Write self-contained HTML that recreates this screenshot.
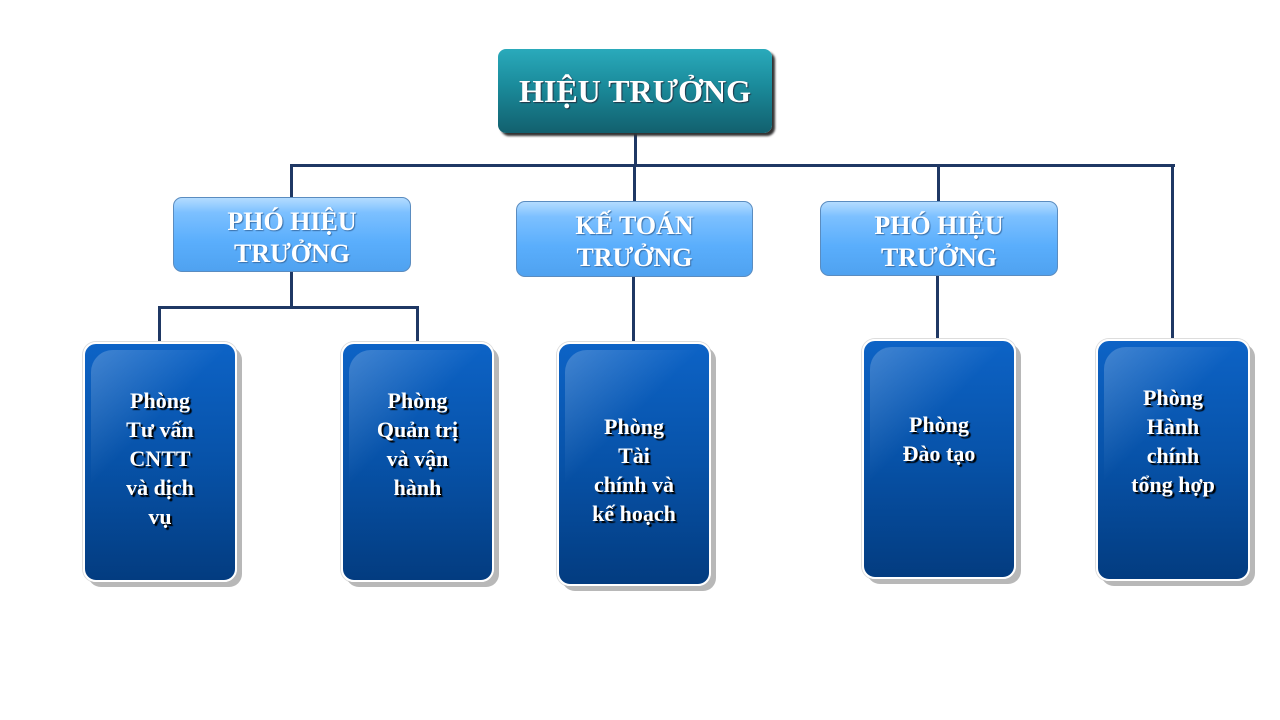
<!DOCTYPE html>
<html><head><meta charset="utf-8"><style>
body{margin:0;width:1280px;height:720px;background:#fff;position:relative;overflow:hidden;font-family:"Liberation Serif",serif;}
.l{position:absolute;background:#1f3864;}
.b{position:absolute;box-sizing:border-box;display:flex;align-items:center;justify-content:center;text-align:center;color:#fff;font-weight:bold;}
.top{left:498px;top:49px;width:274px;height:84px;border-radius:8px;background:linear-gradient(#2aaabb,#1a8a9a 45%,#12606e);font-size:32px;box-shadow:3px 3px 2px #333;text-shadow:1px 1px 1px #234;}
.mid{border-radius:9px;background:linear-gradient(#b4dcff 0%,#7cc0ff 20%,#5aaefc 60%,#4fa2f0);border:1px solid #5a8cc0;font-size:26px;line-height:32px;text-shadow:1px 1px 1px #3a6fa8;padding-top:6px;}
.bot{border-radius:13px;border:2px solid #fff;background:linear-gradient(#0d63c6,#0752a8 50%,#033c80);box-shadow:5px 5px 0 #b8b8b8,0 0 0 1px #ddd;font-size:22px;line-height:29px;text-shadow:2px 2px 1px #000;overflow:hidden;}
.bot:before{content:"";position:absolute;left:6px;top:6px;width:140px;height:160px;border-radius:22px 0 0 0;background:linear-gradient(135deg,rgba(255,255,255,.22),rgba(255,255,255,0) 45%);}
.bot span{position:relative}
</style></head><body>
<div class="l" style="left:634px;top:133px;width:3px;height:33px"></div>
<div class="l" style="left:291px;top:164px;width:884px;height:3px"></div>
<div class="l" style="left:290px;top:164px;width:3px;height:34px"></div>
<div class="l" style="left:633px;top:164px;width:3px;height:38px"></div>
<div class="l" style="left:937px;top:164px;width:3px;height:38px"></div>
<div class="l" style="left:1171px;top:164px;width:3px;height:177px"></div>
<div class="l" style="left:290px;top:272px;width:3px;height:36px"></div>
<div class="l" style="left:158px;top:306px;width:261px;height:3px"></div>
<div class="l" style="left:158px;top:306px;width:3px;height:38px"></div>
<div class="l" style="left:416px;top:306px;width:3px;height:38px"></div>
<div class="l" style="left:632px;top:277px;width:3px;height:64px"></div>
<div class="l" style="left:936px;top:276px;width:3px;height:62px"></div>

<div class="b top">HIỆU TRƯỞNG</div>
<div class="b mid" style="left:173px;top:197px;width:238px;height:75px">PHÓ HIỆU<br>TRƯỞNG</div>
<div class="b mid" style="left:516px;top:201px;width:237px;height:76px">KẾ TOÁN<br>TRƯỞNG</div>
<div class="b mid" style="left:820px;top:201px;width:238px;height:75px">PHÓ HIỆU<br>TRƯỞNG</div>

<div class="b bot" style="left:83px;top:342px;width:154px;height:240px"><span style="top:-4px">Phòng<br>Tư vấn<br>CNTT<br>và dịch<br>vụ</span></div>
<div class="b bot" style="left:341px;top:342px;width:153px;height:240px"><span style="top:-18px">Phòng<br>Quản trị<br>và vận<br>hành</span></div>
<div class="b bot" style="left:557px;top:342px;width:154px;height:244px"><span style="top:6px">Phòng<br>Tài<br>chính và<br>kế hoạch</span></div>
<div class="b bot" style="left:862px;top:339px;width:154px;height:240px"><span style="top:-20px">Phòng<br>Đào tạo</span></div>
<div class="b bot" style="left:1096px;top:339px;width:154px;height:242px"><span style="top:-19px">Phòng<br>Hành<br>chính<br>tổng hợp</span></div>
</body></html>
